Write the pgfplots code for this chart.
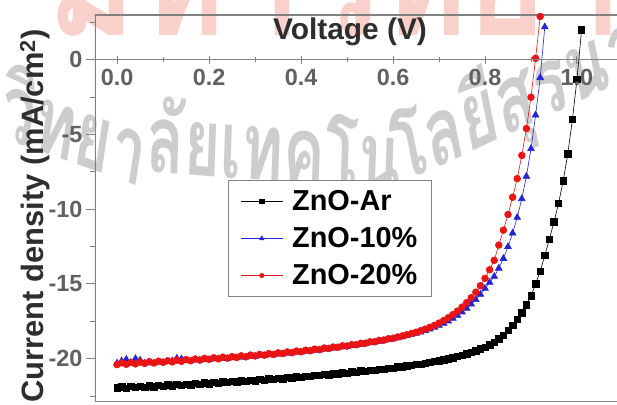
\documentclass[border=0pt]{standalone}
\usepackage{pgfplots}
\pgfplotsset{compat=1.18}
\usepackage{fontspec}
\setmainfont{Liberation Sans}
\newfontfamily\thaifont[Script=Thai]{Loma}
\definecolor{zred}{RGB}{235,20,20}
\definecolor{zblue}{RGB}{35,35,215}
\definecolor{spine}{RGB}{130,130,130}
\definecolor{wmgray}{RGB}{205,205,205}
\definecolor{wmred}{RGB}{250,208,203}

\begin{document}
\begin{tikzpicture}
\path[use as bounding box] (-95bp,-3bp) rectangle (522bp,402bp);
\clip (-95bp,-3bp) rectangle (522bp,402bp);
% watermarks (as in the reference image)
\node[anchor=base west, text=wmred, xscale=0.8, font=\thaifont\fontsize{170}{170}\selectfont\bfseries] at (-50bp,366bp) {มหาวิทยาลัยเทคโน};
\begin{scope}[every node/.style={text=wmgray, xscale=0.66, font=\thaifont\fontsize{95}{95}\selectfont\bfseries}]
\node[anchor=base west, rotate=-13] at (-100bp,266bp) {วิทยา};
\node[anchor=base west, rotate=-3] at (48bp,231bp) {ลัยเทคโน};
\node[anchor=base west, rotate=17] at (302bp,216bp) {โลยีสุรนารี};
\end{scope}

\begin{axis}[
  at={(0,0)}, anchor=south west,
  scale only axis, width=522bp, height=387bp,
  xmin=-0.048, xmax=1.087, ymin=-22.9, ymax=3,
  axis line style={draw=none},
  xtick=\empty,
  ytick={-20,-15,-10,-5,0},
  yticklabels={-20,-15,-10,-5,0},
  minor ytick={-22.5,-17.5,-12.5,-7.5,-2.5,2.5},
  ytick pos=left, tick align=outside,
  major tick length=9bp, minor tick length=5bp,
  tick style={spine, line width=1bp},
  yticklabel style={font=\fontsize{23.5}{26}\selectfont\bfseries, text=black!62},
  legend cell align=left,
  legend style={at={(0.2548,0.5736)}, anchor=north west, draw=spine, line width=1bp,
    fill=white, font=\fontsize{29}{32}\selectfont\bfseries,
    inner xsep=12bp, inner ysep=7bp, row sep=9bp, column sep=7bp,
    nodes={inner sep=2bp, text height=21bp, text depth=3bp}},
  legend image code/.code={\draw[mark repeat=2,mark phase=2,#1,/tikz/every mark/.append style={scale=0.65}] plot coordinates {(0bp,0bp) (21bp,0bp) (42bp,0bp)};},
]
\draw[spine, line width=1.2bp] (rel axis cs:1,1) -- (rel axis cs:0,1) -- (rel axis cs:0,0) -- (rel axis cs:1,0);

\addplot[black, line width=0.6bp, mark=square*, mark size=3.2bp, mark options={solid}] table {
0.00 -21.95
0.01 -21.88
0.02 -21.97
0.03 -21.86
0.04 -21.93
0.05 -21.85
0.06 -21.91
0.07 -21.82
0.08 -21.88
0.09 -21.79
0.10 -21.85
0.11 -21.76
0.12 -21.82
0.13 -21.73
0.14 -21.79
0.15 -21.70
0.16 -21.75
0.17 -21.66
0.18 -21.71
0.19 -21.62
0.20 -21.68
0.21 -21.59
0.22 -21.63
0.23 -21.55
0.24 -21.60
0.25 -21.51
0.26 -21.55
0.27 -21.47
0.28 -21.51
0.29 -21.43
0.30 -21.47
0.31 -21.39
0.32 -21.43
0.33 -21.35
0.34 -21.38
0.35 -21.30
0.36 -21.34
0.37 -21.26
0.38 -21.29
0.39 -21.21
0.40 -21.24
0.41 -21.16
0.42 -21.19
0.43 -21.10
0.44 -21.13
0.45 -21.05
0.46 -21.08
0.47 -21.00
0.48 -21.02
0.49 -20.94
0.50 -20.96
0.51 -20.88
0.52 -20.90
0.53 -20.82
0.54 -20.84
0.55 -20.76
0.56 -20.77
0.57 -20.70
0.58 -20.70
0.59 -20.63
0.60 -20.63
0.61 -20.55
0.62 -20.55
0.63 -20.47
0.64 -20.46
0.65 -20.38
0.66 -20.36
0.67 -20.29
0.68 -20.25
0.69 -20.19
0.70 -20.13
0.71 -20.07
0.72 -20.00
0.73 -19.93
0.74 -19.85
0.75 -19.77
0.76 -19.68
0.77 -19.58
0.78 -19.47
0.79 -19.35
0.80 -19.22
0.81 -19.07
0.82 -18.90
0.83 -18.68
0.84 -18.42
0.85 -18.12
0.86 -17.78
0.87 -17.38
0.88 -16.92
0.89 -16.40
0.90 -15.80
0.91 -15.00
0.92 -14.15
0.93 -13.10
0.94 -12.00
0.95 -10.85
0.96 -9.60
0.97 -8.10
0.98 -6.30
0.99 -4.00
1.00 -1.30
1.01 2.00
};
\addlegendentry{ZnO-Ar}

\addplot[zblue, line width=0.6bp, mark=triangle*, mark size=3.9bp, mark options={solid}] table {
0.00 -20.30
0.01 -20.15
0.02 -20.05
0.03 -20.25
0.04 -20.00
0.05 -20.10
0.06 -20.30
0.07 -20.25
0.08 -20.30
0.09 -20.22
0.10 -20.25
0.11 -20.18
0.12 -20.15
0.13 -19.98
0.14 -20.02
0.15 -20.12
0.16 -20.15
0.17 -20.08
0.18 -20.10
0.19 -20.04
0.20 -20.06
0.21 -19.99
0.22 -20.02
0.23 -19.97
0.24 -19.99
0.25 -19.93
0.26 -19.95
0.27 -19.89
0.28 -19.90
0.29 -19.84
0.30 -19.85
0.31 -19.79
0.32 -19.80
0.33 -19.74
0.34 -19.75
0.35 -19.69
0.36 -19.69
0.37 -19.63
0.38 -19.63
0.39 -19.57
0.40 -19.57
0.41 -19.50
0.42 -19.50
0.43 -19.43
0.44 -19.43
0.45 -19.36
0.46 -19.35
0.47 -19.29
0.48 -19.27
0.49 -19.21
0.50 -19.19
0.51 -19.13
0.52 -19.10
0.53 -19.04
0.54 -19.00
0.55 -18.94
0.56 -18.90
0.57 -18.84
0.58 -18.79
0.59 -18.73
0.60 -18.67
0.61 -18.61
0.62 -18.54
0.63 -18.46
0.64 -18.38
0.65 -18.30
0.66 -18.22
0.67 -18.12
0.68 -18.02
0.69 -17.90
0.70 -17.78
0.71 -17.64
0.72 -17.48
0.73 -17.30
0.74 -17.10
0.75 -16.88
0.76 -16.63
0.77 -16.35
0.78 -16.05
0.79 -15.70
0.80 -15.30
0.81 -14.90
0.82 -14.50
0.83 -13.95
0.84 -13.30
0.85 -12.50
0.86 -11.60
0.87 -10.55
0.88 -9.30
0.89 -7.80
0.90 -5.95
0.91 -3.70
0.92 -1.20
0.93 2.20
};
\addlegendentry{ZnO-10\%}

\addplot[zred, line width=0.6bp, mark=*, mark size=3.4bp, mark options={solid}] table {
0.00 -20.40
0.01 -20.28
0.02 -20.38
0.03 -20.26
0.04 -20.35
0.05 -20.23
0.06 -20.32
0.07 -20.20
0.08 -20.29
0.09 -20.17
0.10 -20.25
0.11 -20.14
0.12 -20.22
0.13 -20.10
0.14 -20.18
0.15 -20.06
0.16 -20.14
0.17 -20.02
0.18 -20.10
0.19 -19.98
0.20 -20.05
0.21 -19.94
0.22 -20.01
0.23 -19.90
0.24 -19.97
0.25 -19.86
0.26 -19.92
0.27 -19.81
0.28 -19.88
0.29 -19.76
0.30 -19.82
0.31 -19.71
0.32 -19.77
0.33 -19.66
0.34 -19.72
0.35 -19.61
0.36 -19.66
0.37 -19.55
0.38 -19.60
0.39 -19.49
0.40 -19.54
0.41 -19.43
0.42 -19.47
0.43 -19.36
0.44 -19.40
0.45 -19.29
0.46 -19.32
0.47 -19.22
0.48 -19.24
0.49 -19.14
0.50 -19.16
0.51 -19.06
0.52 -19.07
0.53 -18.97
0.54 -18.97
0.55 -18.87
0.56 -18.87
0.57 -18.77
0.58 -18.76
0.59 -18.66
0.60 -18.64
0.61 -18.55
0.62 -18.48
0.63 -18.40
0.64 -18.32
0.65 -18.23
0.66 -18.13
0.67 -18.02
0.68 -17.90
0.69 -17.77
0.70 -17.62
0.71 -17.45
0.72 -17.26
0.73 -17.05
0.74 -16.82
0.75 -16.55
0.76 -16.25
0.77 -15.92
0.78 -15.55
0.79 -15.12
0.80 -14.62
0.81 -14.05
0.82 -13.42
0.83 -12.40
0.84 -11.40
0.85 -10.35
0.86 -9.20
0.87 -7.95
0.88 -6.40
0.89 -4.60
0.90 -2.50
0.91 0.10
0.92 2.90
};
\addlegendentry{ZnO-20\%}
\end{axis}

\begin{axis}[
  at={(0,0)}, anchor=south west,
  scale only axis, width=522bp, height=387bp,
  xmin=-0.048, xmax=1.087, ymin=-22.9, ymax=3,
  axis x line=middle, axis y line=none,
  x axis line style={-, spine, line width=1.2bp},
  xtick={0,0.2,0.4,0.6,0.8,1.0},
  xticklabels={0.0,0.2,0.4,0.6,0.8,1.0},
  minor xtick={0.1,0.3,0.5,0.7,0.9},
  tick align=center,
  major tick length=8bp, minor tick length=5bp,
  tick style={spine, line width=1bp},
  xticklabel style={font=\fontsize{23.5}{26}\selectfont\bfseries, text=black!62, yshift=-2bp},
]
\end{axis}

\node[anchor=base, font=\fontsize{30}{32}\selectfont\bfseries, text=black!82] at (255bp,362bp) {Voltage (V)};
\node[rotate=90, anchor=base, font=\fontsize{31}{34}\selectfont\bfseries, text=black!82] at (-51bp,186bp) {Current density (mA/cm\textsuperscript{2})};
\end{tikzpicture}
\end{document}
